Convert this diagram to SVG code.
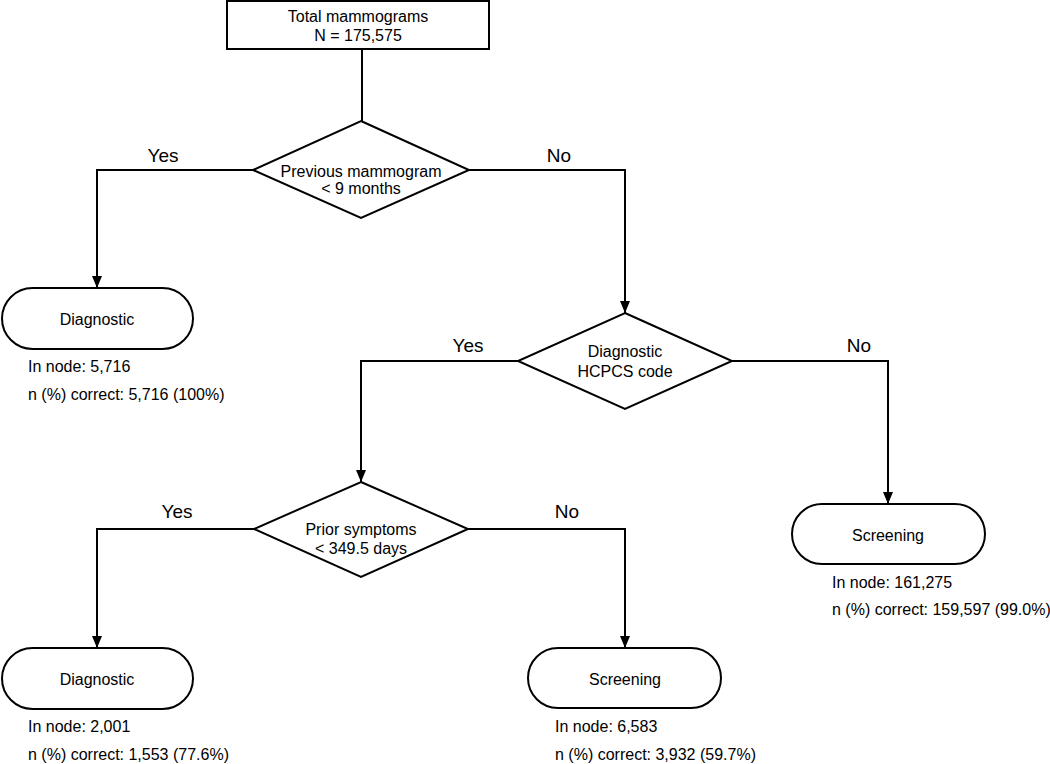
<svg xmlns="http://www.w3.org/2000/svg" width="1050" height="764" viewBox="0 0 1050 764">
<style>
.s{fill:#fff;stroke:#000;stroke-width:2}
.c{fill:none;stroke:#000;stroke-width:2}
text{font-family:"Liberation Sans",Arial,sans-serif;fill:#000}
.t{font-size:16px;text-anchor:middle}
.i{font-size:16px}
.l{font-size:19px;text-anchor:middle}
</style>
<defs>
<marker id="a" markerWidth="12" markerHeight="10" refX="12" refY="5" orient="auto" markerUnits="userSpaceOnUse" viewBox="0 0 12 10">
<path d="M0,0 L12,5 L0,10 Z" fill="#000"/>
</marker>
</defs>
<rect width="1050" height="764" fill="#fff"/>
<g id="connectors">
<path class="c" d="M362,49 V121"/>
<path class="c" d="M253,170 H97 V288" marker-end="url(#a)"/>
<path class="c" d="M469,170 H625 V313" marker-end="url(#a)"/>
<path class="c" d="M518,361 H361 V482" marker-end="url(#a)"/>
<path class="c" d="M732,361 H888 V504" marker-end="url(#a)"/>
<path class="c" d="M254,529 H97 V648" marker-end="url(#a)"/>
<path class="c" d="M468,529 H625 V648" marker-end="url(#a)"/>
<text class="l" x="163" y="162">Yes</text>
<text class="l" x="559" y="162">No</text>
<text class="l" x="468" y="352">Yes</text>
<text class="l" x="859" y="352">No</text>
<text class="l" x="177" y="518">Yes</text>
<text class="l" x="567" y="518">No</text>
</g>
<g id="total">
<rect class="s" x="227" y="1" width="262" height="48"/>
<text class="t" x="358" y="22">Total mammograms</text>
<text class="t" x="358" y="41">N = 175,575</text>
</g>
<g id="d1">
<polygon class="s" points="361,121 469,170 361,218 253,170"/>
<text class="t" x="361" y="177">Previous mammogram</text>
<text class="t" x="361" y="194">&lt; 9 months</text>
</g>
<g id="diag1">
<rect class="s" x="2" y="288" width="191" height="61" rx="30.5"/>
<text class="t" x="97" y="325">Diagnostic</text>
<text class="i" x="28" y="372">In node: 5,716</text>
<text class="i" x="28" y="400">n (%) correct: 5,716 (100%)</text>
</g>
<g id="d2">
<polygon class="s" points="625,313 732,361 625,409 518,361"/>
<text class="t" x="625" y="357">Diagnostic</text>
<text class="t" x="625" y="377">HCPCS code</text>
</g>
<g id="screen1">
<rect class="s" x="792" y="504" width="193" height="60" rx="30"/>
<text class="t" x="888" y="541">Screening</text>
<text class="i" x="832" y="588">In node: 161,275</text>
<text class="i" x="832" y="615">n (%) correct: 159,597 (99.0%)</text>
</g>
<g id="d3">
<polygon class="s" points="361,482 468,529 361,577 254,529"/>
<text class="t" x="361" y="535">Prior symptoms</text>
<text class="t" x="361" y="554">&lt; 349.5 days</text>
</g>
<g id="diag2">
<rect class="s" x="2" y="648" width="191" height="61" rx="30.5"/>
<text class="t" x="97" y="685">Diagnostic</text>
<text class="i" x="28" y="732">In node: 2,001</text>
<text class="i" x="28" y="760">n (%) correct: 1,553 (77.6%)</text>
</g>
<g id="screen2">
<rect class="s" x="528" y="648" width="193" height="60" rx="30"/>
<text class="t" x="625" y="685">Screening</text>
<text class="i" x="555" y="732">In node: 6,583</text>
<text class="i" x="555" y="760">n (%) correct: 3,932 (59.7%)</text>
</g>
</svg>
